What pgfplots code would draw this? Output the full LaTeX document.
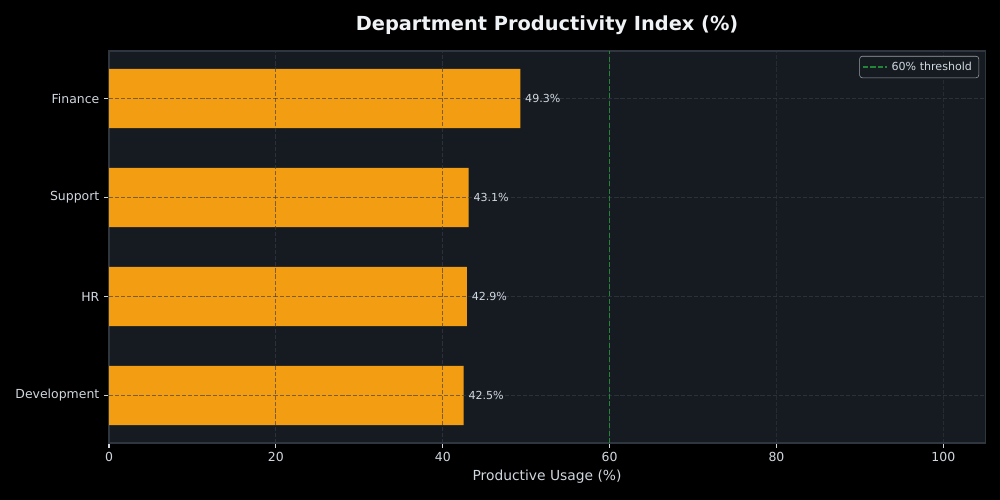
\documentclass[border=0pt]{standalone}
\usepackage{pgfplots}
\pgfplotsset{compat=1.18}
\usepackage{fontspec}
\setmainfont{DejaVu Sans}
\definecolor{figbg}{HTML}{000000}
\definecolor{axbg}{HTML}{161B22}
\definecolor{spine}{HTML}{30363D}
\definecolor{barc}{HTML}{F39E12}
\definecolor{txt}{HTML}{D0D7DE}
\definecolor{ttl}{HTML}{F0F3F6}
\definecolor{thr}{HTML}{238636}
\definecolor{gridc}{HTML}{30363D}
\pagecolor{figbg}
\begin{document}
\begin{tikzpicture}
\path (0,0) rectangle (722.7pt,361.35pt);
\begin{axis}[
  at={(78.8pt,41.2pt)}, anchor=south west,
  scale only axis, width=633.1pt, height=283.3pt,
  xmin=0, xmax=105, ymin=-0.48, ymax=3.48,
  ytick={0,1,2,3},
  yticklabels={Development,HR,Support,Finance},
  xtick={0,20,40,60,80,100},
  axis background/.style={fill=axbg},
  axis line style={spine, line width=0.8pt},
  tick style={txt, line width=0.8pt},
  tick align=outside, major tick length=3.5pt,
  xtick pos=bottom, ytick pos=left,
  ticklabel style={font=\fontsize{9}{11}\selectfont, text=txt},
  /pgf/number format/assume math mode=true,
  xmajorgrids, ymajorgrids,
  grid style={gridc, opacity=0.6, line width=0.6pt, dash pattern=on 3pt off 1.4pt},
  axis on top=false,
  xlabel={Productive Usage (\%)},
  xlabel style={font=\fontsize{10}{12}\selectfont, text=txt, yshift=1pt},
  title={\textbf{Department Productivity Index (\%)}},
  title style={font=\fontsize{14}{17}\selectfont, text=ttl, yshift=2pt},
  legend style={at={(1,1)}, anchor=north east, xshift=-4.3pt, yshift=-3.6pt,
    fill=axbg, draw=txt!75!black, rounded corners=2pt, text=txt,
    font=\fontsize{8}{10}\selectfont, inner sep=2pt,
    nodes={inner xsep=3pt}},
  legend cell align=left,
]
\addplot[xbar, bar width=0.6, fill=barc, draw=none, forget plot,
  point meta=explicit,
  nodes near coords={\pgfmathprintnumber[fixed,precision=1,fixed zerofill]{\pgfplotspointmeta}\%},
  nodes near coords style={font=\fontsize{8}{10}\selectfont, text=txt, anchor=west, xshift=0pt},
] coordinates {
  (42.5,0) [42.5]
  (42.9,1) [42.9]
  (43.1,2) [43.1]
  (49.3,3) [49.3]
};
% grid lines redrawn over the bars, as in the reference
\addplot[forget plot, gridc, opacity=0.6, line width=0.6pt, dash pattern=on 3pt off 1.4pt] coordinates {(20,-0.48) (20,3.48)};
\addplot[forget plot, gridc, opacity=0.6, line width=0.6pt, dash pattern=on 3pt off 1.4pt] coordinates {(40,-0.48) (40,3.48)};
\addplot[forget plot, gridc, opacity=0.6, line width=0.6pt, dash pattern=on 3pt off 1.4pt] coordinates {(0,0) (105,0)};
\addplot[forget plot, gridc, opacity=0.6, line width=0.6pt, dash pattern=on 3pt off 1.4pt] coordinates {(0,1) (105,1)};
\addplot[forget plot, gridc, opacity=0.6, line width=0.6pt, dash pattern=on 3pt off 1.4pt] coordinates {(0,2) (105,2)};
\addplot[forget plot, gridc, opacity=0.6, line width=0.6pt, dash pattern=on 3pt off 1.4pt] coordinates {(0,3) (105,3)};
\addplot[draw=thr, line width=1.1pt, dash pattern=on 3.7pt off 1.6pt] coordinates {(60,-0.48) (60,3.48)};
\addlegendentry{60\% threshold}
\end{axis}
\pgfresetboundingbox
\path (0,0) rectangle (722.7pt,361.35pt);
\end{tikzpicture}
\end{document}
